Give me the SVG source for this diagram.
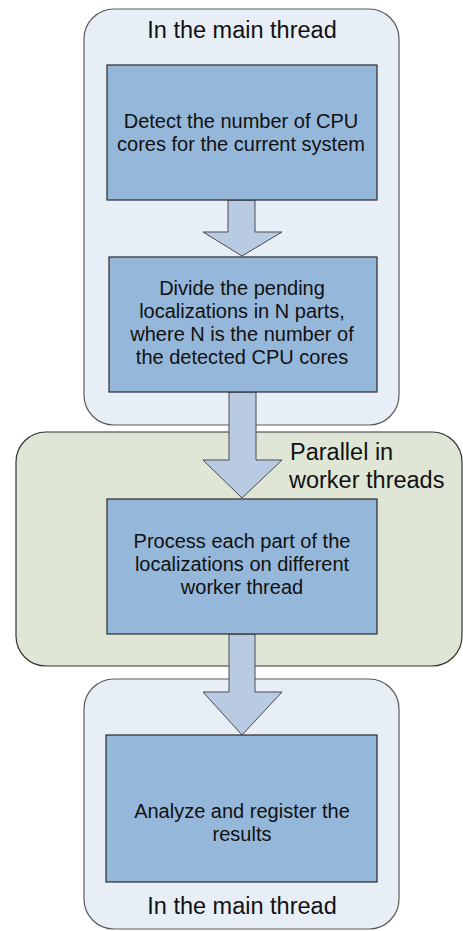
<svg xmlns="http://www.w3.org/2000/svg" width="463" height="931" viewBox="0 0 463 931">
<style>
.cont{fill:#e8eef6;stroke:#5a5a5a;stroke-width:1.2}
.green{fill:#dfe6d6;stroke:#333;stroke-width:1.2}
.box{fill:#95b7da;stroke:#2b2b2b;stroke-width:1.2}
.arrow{fill:#b8cbe3;stroke:#4a4a4a;stroke-width:1}
text{font-family:"Liberation Sans",Arial,sans-serif;fill:#111}
.t{font-size:20px;text-anchor:middle}
.big{font-size:23.5px}
</style>
<rect width="463" height="931" fill="#fff"/>
<g id="main-top">
<rect class="cont" x="84" y="9" width="315" height="416" rx="30"/>
<text class="big" x="242" y="38" text-anchor="middle">In the main thread</text>
</g>
<g id="parallel">
<rect class="green" x="16" y="432" width="446" height="234" rx="30"/>
<text class="big" x="290" y="460">Parallel in</text>
<text class="big" x="289" y="488">worker threads</text>
</g>
<g id="main-bottom">
<rect class="cont" x="84" y="679" width="315" height="250" rx="30"/>
<text class="big" x="242" y="914" text-anchor="middle">In the main thread</text>
</g>
<g id="connectors">
<polygon class="arrow" points="228,200 255,200 255,232 282,232 242,256 203,232 228,232"/>
<polygon class="arrow" points="229,392 256,392 256,460 282,460 242,498 203,460 229,460"/>
<polygon class="arrow" points="229,634 255,634 255,692 282,692 242,735 203,692 229,692"/>
</g>
<g id="detect">
<rect class="box" x="107" y="65" width="270" height="135"/>
<text class="t" x="241" y="128">Detect the number of CPU</text>
<text class="t" x="241" y="151">cores for the current system</text>
</g>
<g id="divide">
<rect class="box" x="109" y="257" width="268" height="135"/>
<text class="t" x="242" y="295">Divide the pending</text>
<text class="t" x="242" y="318">localizations in N parts,</text>
<text class="t" x="242" y="341">where N is the number of</text>
<text class="t" x="242" y="364">the detected CPU cores</text>
</g>
<g id="process">
<rect class="box" x="107" y="499" width="270" height="135"/>
<text class="t" x="242" y="548">Process each part of the</text>
<text class="t" x="242" y="571">localizations on different</text>
<text class="t" x="242" y="594">worker thread</text>
</g>
<g id="analyze">
<rect class="box" x="106" y="735" width="271" height="147"/>
<text class="t" x="242" y="818">Analyze and register the</text>
<text class="t" x="242" y="841">results</text>
</g>
</svg>
